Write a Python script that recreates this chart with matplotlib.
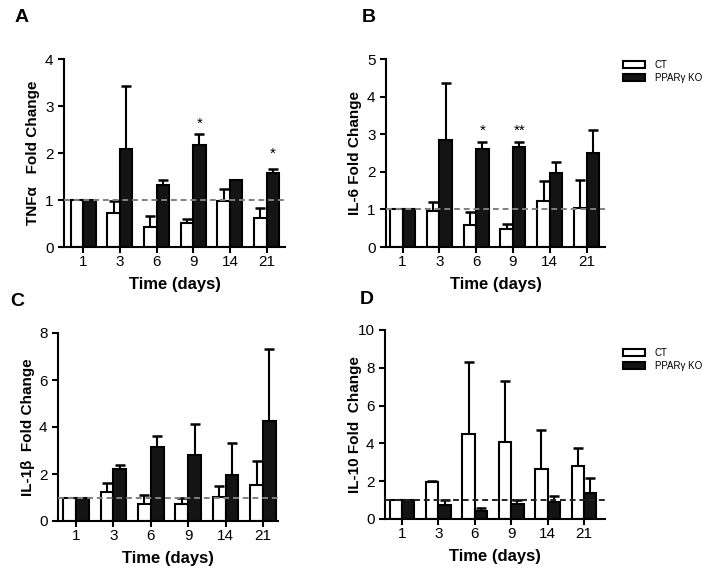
import numpy as np
import matplotlib
matplotlib.use("Agg")
import matplotlib.pyplot as plt
from matplotlib.patches import Patch

plt.rcParams['font.family'] = ['Liberation Sans', 'DejaVu Sans']

days = ["1", "3", "6", "9", "14", "21"]

# panel A: TNFa
tnf_ct = [1.0, 0.72, 0.42, 0.52, 0.98, 0.62]
tnf_ct_err = [0.0, 0.25, 0.25, 0.08, 0.25, 0.21]
tnf_ko = [1.0, 2.08, 1.32, 2.18, 1.42, 1.58]
tnf_ko_err = [0.0, 1.35, 0.10, 0.22, 0.0, 0.07]
tnf_stars = {3: ("*", 2.62), 5: ("*", 1.98)}

# panel B: IL-6
il6_ct = [1.0, 0.97, 0.58, 0.47, 1.22, 1.05]
il6_ct_err = [0.0, 0.23, 0.35, 0.13, 0.53, 0.73]
il6_ko = [1.0, 2.85, 2.6, 2.65, 1.97, 2.5]
il6_ko_err = [0.0, 1.52, 0.2, 0.15, 0.28, 0.62]
il6_stars = {2: ("*", 3.1), 3: ("**", 3.1)}

# panel C: IL-1b
il1b_ct = [1.0, 1.25, 0.72, 0.72, 1.03, 1.55]
il1b_ct_err = [0.0, 0.35, 0.4, 0.25, 0.47, 1.02]
il1b_ko = [0.97, 2.2, 3.15, 2.8, 1.97, 4.25]
il1b_ko_err = [0.0, 0.18, 0.45, 1.33, 1.33, 3.05]

# panel D: IL-10
il10_ct = [1.0, 1.95, 4.5, 4.07, 2.62, 2.8]
il10_ct_err = [0.0, 0.05, 3.8, 3.23, 2.08, 0.97]
il10_ko = [1.0, 0.75, 0.42, 0.82, 0.92, 1.37]
il10_ko_err = [0.0, 0.28, 0.18, 0.21, 0.28, 0.78]

fig = plt.figure(figsize=(7.08, 5.71), dpi=100)

W, H = 708, 571
def box(l, r, t, b):
    return [l / W, 1 - b / H, (r - l) / W, (b - t) / H]

panels = [
    dict(pos=box(64, 285, 59, 247), xlim=(-0.52, 5.5), ymax=4, yt=[0, 1, 2, 3, 4],
         ct=tnf_ct, cte=tnf_ct_err, ko=tnf_ko, koe=tnf_ko_err, stars=tnf_stars,
         ylabel="TNF\u03b1   Fold Change", letter="A", dash="#808080", lx=-0.11),
    dict(pos=box(386, 605, 59, 247), xlim=(-0.45, 5.5), ymax=5, yt=[0, 1, 2, 3, 4, 5],
         ct=il6_ct, cte=il6_ct_err, ko=il6_ko, koe=il6_ko_err, stars=il6_stars,
         ylabel="IL-6 Fold Change", letter="B", dash="#808080", lx=-0.11),
    dict(pos=box(58, 278, 333, 521), xlim=(-0.48, 5.4), ymax=8, yt=[0, 2, 4, 6, 8],
         ct=il1b_ct, cte=il1b_ct_err, ko=il1b_ko, koe=il1b_ko_err, stars={},
         ylabel="IL-1\u03b2  Fold Change", letter="C", dash="#808080", lx=-0.105),
    dict(pos=box(385, 605, 330, 519), xlim=(-0.47, 5.58), ymax=10, yt=[0, 2, 4, 6, 8, 10],
         ct=il10_ct, cte=il10_ct_err, ko=il10_ko, koe=il10_ko_err, stars={},
         ylabel="IL-10 Fold  Change", letter="D", dash="#222222", lx=-0.105),
]

letter_pos = {"A": (22, 18), "B": (369, 18), "C": (17, 302), "D": (367, 300)}

x = np.arange(len(days))
bw = 0.34
for p in panels:
    ax = fig.add_axes(p["pos"])
    ax.bar(x - bw / 2, p["ct"], bw, color="white", edgecolor="black", lw=1.5, zorder=2)
    ax.bar(x + bw / 2, p["ko"], bw, color="#141414", edgecolor="black", lw=1.5, zorder=2)
    for off, vals, errs in [(-bw / 2, p["ct"], p["cte"]), (bw / 2, p["ko"], p["koe"])]:
        v = np.array(vals)
        e = np.array(errs)
        m = e > 0
        ax.vlines(x[m] + off, v[m], v[m] + e[m], color="black", lw=1.5, zorder=3)
        ax.plot(x[m] + off, v[m] + e[m], ls="none", marker="_", ms=7, mew=1.8,
                color="black", zorder=3)
    ax.axhline(1, color=p["dash"], ls=(0, (3, 2)), lw=1.4, zorder=4, clip_on=False)
    for i, (s, yv) in p["stars"].items():
        ax.text(i + bw / 2, yv, s, ha="center", va="center", fontsize=11)
    ax.set_xlim(*p["xlim"])
    ax.set_ylim(0, p["ymax"])
    ax.set_yticks(p["yt"])
    ax.set_xticks(x)
    ax.set_xticklabels(days)
    ax.tick_params(labelsize=11, width=1.5, length=4, colors="black")
    ax.tick_params(axis="x", pad=2)
    for s in ["top", "right"]:
        ax.spines[s].set_visible(False)
    for s in ["left", "bottom"]:
        ax.spines[s].set_linewidth(1.5)
    ax.set_ylabel(p["ylabel"], fontsize=11, fontweight="bold")
    ax.yaxis.set_label_coords(p["lx"], 0.5)
    ax.set_xlabel("Time (days)", fontsize=12, fontweight="bold")
    ax.xaxis.set_label_coords(0.5, -0.16)
    lx, ly = letter_pos[p["letter"]]
    fig.text(lx / W, 1 - ly / H, p["letter"], fontsize=14, fontweight="bold",
             ha="center", va="center")

handles = [Patch(facecolor="white", edgecolor="black", lw=1.5, label="CT"),
           Patch(facecolor="#141414", edgecolor="black", lw=1.5, label="PPAR\u03b3 KO")]
for yy in [55, 343]:
    fig.legend(handles=handles, loc="upper left", bbox_to_anchor=(618 / W, 1 - yy / H),
               frameon=False, fontsize=7, handlelength=2.3, handleheight=0.8,
               handletextpad=1.0, labelspacing=0.3, borderpad=0)

fig.savefig("out.png", dpi=100)
